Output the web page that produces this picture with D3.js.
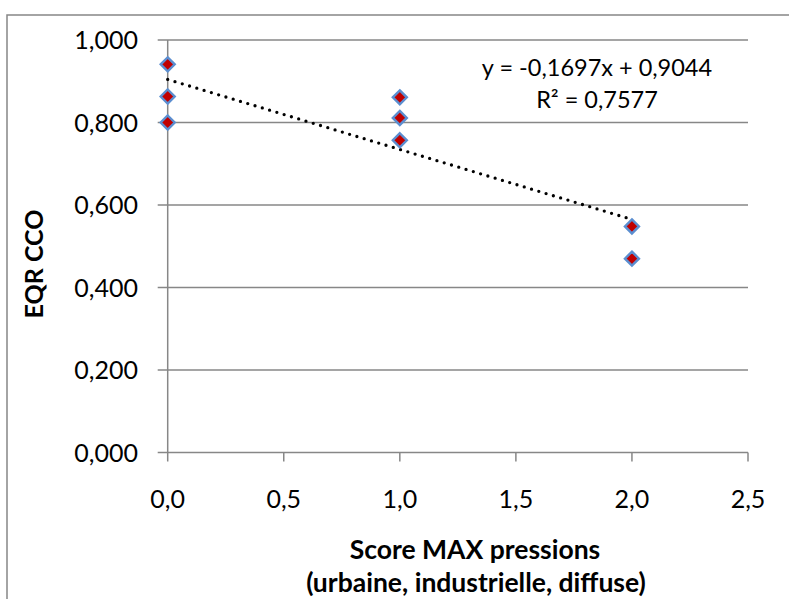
<!DOCTYPE html>
<html>
<head>
<meta charset="utf-8">
<script src="https://cdn.jsdelivr.net/npm/d3@7"></script>
<style>
  body { margin: 0; background: #ffffff; }
  svg { display: block; font-family: Lato, "Open Sans", sans-serif; }
</style>
</head>
<body>
<svg id="chart" width="789" height="599"></svg>
<script>
// scores (x) and EQR CCO (y)
const scores = [0, 0, 0, 1, 1, 1, 2, 2];
const eqrValues = [0.941, 0.863, 0.800, 0.861, 0.811, 0.757, 0.548, 0.470];
const xTicks = [0, 0.5, 1, 1.5, 2, 2.5];
const yTicks = [0, 0.2, 0.4, 0.6, 0.8, 1.0];
const trendSlope = -0.1697;
const trendIntercept = 0.9044;
const equationLines = ['y = -0,1697x + 0,9044', 'R² = 0,7577'];

const comma = d3.formatLocale({ decimal: ',', thousands: ' ', grouping: [3], currency: ['', '€'] });
const fmtX = comma.format('.1f');
const fmtY = comma.format('.3f');

const svg = d3.select('#chart');
const gray = '#878787';

// chart border
svg.append('rect')
  .attr('x', 7).attr('y', 15)
  .attr('width', 800).attr('height', 600)
  .attr('fill', 'none')
  .attr('stroke', gray)
  .attr('stroke-width', 1.5);

const x = d3.scaleLinear().domain([0, 2.5]).range([167.7, 748]);
const y = d3.scaleLinear().domain([0, 1]).range([452.5, 40]);

// horizontal gridlines with the little stub left of the axis
svg.append('g')
  .selectAll('line')
  .data(yTicks)
  .enter()
  .append('line')
  .attr('x1', x(0) - 10)
  .attr('x2', x(2.5))
  .attr('y1', d => y(d))
  .attr('y2', d => y(d))
  .attr('stroke', gray)
  .attr('stroke-width', 1.5);

// y axis line
svg.append('line')
  .attr('x1', x(0)).attr('x2', x(0))
  .attr('y1', y(1)).attr('y2', y(0))
  .attr('stroke', gray)
  .attr('stroke-width', 1.5);

// x ticks
svg.append('g')
  .selectAll('line')
  .data(xTicks)
  .enter()
  .append('line')
  .attr('x1', d => x(d)).attr('x2', d => x(d))
  .attr('y1', y(0)).attr('y2', y(0) + 9)
  .attr('stroke', gray)
  .attr('stroke-width', 1.5);

svg.append('g')
  .selectAll('text')
  .data(yTicks)
  .enter()
  .append('text')
  .attr('x', 138)
  .attr('y', d => y(d) + 9)
  .attr('text-anchor', 'end')
  .attr('font-size', 25)
  .attr('fill', '#000')
  .text(d => fmtY(d));

svg.append('g')
  .selectAll('text')
  .data(xTicks)
  .enter()
  .append('text')
  .attr('x', d => x(d))
  .attr('y', 508)
  .attr('text-anchor', 'middle')
  .attr('font-size', 25)
  .attr('fill', '#000')
  .text(d => fmtX(d));

// trend line (dotted)
const trendX = [0, 2];
svg.append('path')
  .datum(trendX)
  .attr('d', d3.line()
    .x(d => x(d))
    .y(d => y(trendIntercept + trendSlope * d)))
  .attr('fill', 'none')
  .attr('stroke', '#000')
  .attr('stroke-width', 3.3)
  .attr('stroke-linecap', 'round')
  .attr('stroke-dasharray', '0 7.6');

// diamond markers
const diamond = d3.symbol().type(d3.symbolDiamond2).size(125);
svg.append('g')
  .selectAll('path')
  .data(scores.map((s, i) => ({ s: s, v: eqrValues[i] })))
  .enter()
  .append('path')
  .attr('d', diamond)
  .attr('transform', d => 'translate(' + x(d.s) + ',' + y(d.v) + ')')
  .attr('fill', '#c00000')
  .attr('stroke', '#5b8ed0')
  .attr('stroke-width', 2.4);

// equation label
svg.append('g')
  .selectAll('text')
  .data(equationLines)
  .enter()
  .append('text')
  .attr('x', 597)
  .attr('y', (d, i) => 76 + i * 32)
  .attr('text-anchor', 'middle')
  .attr('font-size', 23.5)
  .attr('fill', '#000')
  .text(d => d);

// axis titles
svg.append('text')
  .attr('transform', 'translate(43,264) rotate(-90)')
  .attr('text-anchor', 'middle')
  .attr('font-size', 25)
  .attr('font-weight', 'bold')
  .text('EQR CCO');

svg.append('text')
  .attr('x', 475)
  .attr('y', 559)
  .attr('text-anchor', 'middle')
  .attr('font-size', 26.5)
  .attr('font-weight', 'bold')
  .text('Score MAX pressions');

svg.append('text')
  .attr('x', 476)
  .attr('y', 592)
  .attr('text-anchor', 'middle')
  .attr('font-size', 26.5)
  .attr('font-weight', 'bold')
  .text('(urbaine, industrielle, diffuse)');
</script>
</body>
</html>
